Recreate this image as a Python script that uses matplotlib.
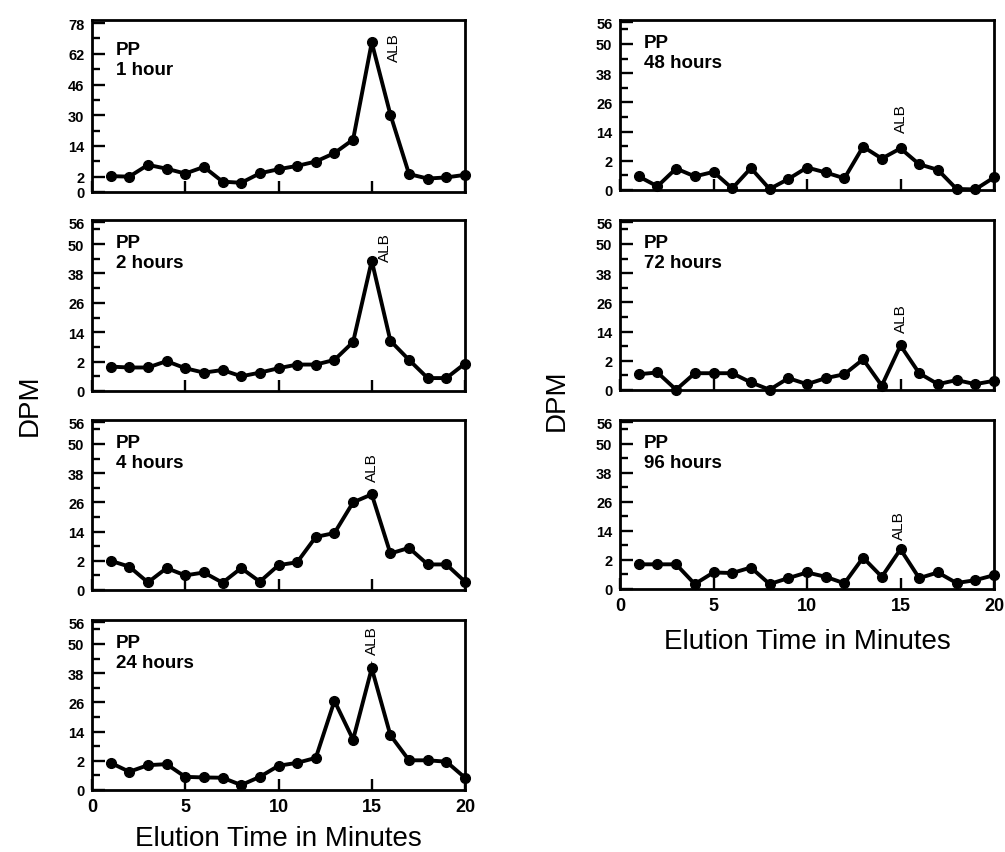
import numpy as np
import matplotlib
matplotlib.use("Agg")
import matplotlib.pyplot as plt
import matplotlib.transforms as mtransforms

plt.rcParams['font.family'] = ['Liberation Sans', 'DejaVu Sans']

# ---------------- data ----------------
minutes = [1, 2, 3, 4, 5, 6, 7, 8, 9, 10, 11, 12, 13, 14, 15, 16, 17, 18, 19, 20]

dpm_1h = [2.2, 2.0, 6.6, 5.1, 3.2, 5.8, 1.35, 1.2, 3.3, 4.9,
          6.2, 7.9, 11.2, 17.3, 67.9, 30.3, 3.0, 1.75, 1.9, 2.7]
dpm_2h = [1.66, 1.6, 1.6, 2.2, 1.55, 1.25, 1.43, 1.0, 1.25, 1.55,
          1.8, 1.8, 2.7, 10.0, 43.2, 10.5, 2.7, 0.88, 0.88, 1.87]
dpm_4h = [2.0, 1.6, 0.52, 1.5, 1.0, 1.2, 0.5, 1.5, 0.57, 1.7,
          1.9, 11.8, 13.4, 26.0, 29.3, 5.0, 7.3, 1.75, 1.75, 0.57]
dpm_24h = [1.86, 1.25, 1.7, 1.77, 0.9, 0.86, 0.84, 0.34, 0.9, 1.66,
           1.86, 3.2, 26.6, 10.7, 40.0, 12.5, 2.2, 2.2, 1.94, 0.84]
dpm_48h = [0.93, 0.25, 1.47, 0.93, 1.24, 0.11, 1.5, 0.07, 0.75, 1.54,
           1.2, 0.8, 7.8, 2.9, 7.1, 1.76, 1.38, 0.07, 0.04, 0.86]
dpm_72h = [1.08, 1.2, 0.02, 1.15, 1.15, 1.15, 0.52, 0.02, 0.81, 0.4,
           0.81, 1.08, 2.6, 0.3, 8.3, 1.15, 0.4, 0.68, 0.4, 0.63]
dpm_96h = [1.7, 1.7, 1.7, 0.34, 1.14, 1.1, 1.48, 0.34, 0.75, 1.14,
           0.84, 0.39, 2.96, 0.84, 6.4, 0.75, 1.14, 0.41, 0.61, 0.95]

panel_titles = ["1 hour", "2 hours", "4 hours", "24 hours",
                "48 hours", "72 hours", "96 hours"]
series = [dpm_1h, dpm_2h, dpm_4h, dpm_24h, dpm_48h, dpm_72h, dpm_96h]

yticks_top = [0, 2, 14, 30, 46, 62, 78]
yticks_std = [0, 2, 14, 26, 38, 50, 56]
xticks = [0, 5, 10, 15, 20]
peak_label = "ALB"

# ---------------- layout (pixels) ----------------
W, H = 1005, 853
# (x0, x1, top, bottom)
boxes = [
    (92, 465, 21, 193),
    (92, 465, 221, 392),
    (92, 465, 421, 591),
    (92, 465, 621, 791),
    (620, 994, 21, 191),
    (620, 994, 221, 391),
    (620, 994, 421, 590),
]
# tick positions on the broken y axis (in "tick units")
pos_top = [0, 0.5, 1.5, 2.5, 3.5, 4.5, 5.5]
pos_std = [0, 1, 2, 3, 4, 5, 5.74]
# ALB label: (x data, bottom in axes fraction)
alb_pos = [(16.2, 0.762), (15.7, 0.762), (15.0, 0.643), (15.0, 0.80),
           (15.0, 0.339), (15.0, 0.342), (14.9, 0.298)]
pp_offset_px = [24, 17, 17, 17, 17, 17, 17]


def make_scale(vals, pos):
    v = np.asarray(vals, float)
    p = np.asarray(pos, float)
    s0 = (p[1] - p[0]) / (v[1] - v[0])
    s1 = (p[-1] - p[-2]) / (v[-1] - v[-2])

    def fwd(x):
        x = np.asarray(x, float)
        return np.where(x < v[0], p[0] + (x - v[0]) * s0,
                        np.where(x > v[-1], p[-1] + (x - v[-1]) * s1,
                                 np.interp(x, v, p)))

    def inv(y):
        y = np.asarray(y, float)
        return np.where(y < p[0], v[0] + (y - p[0]) / s0,
                        np.where(y > p[-1], v[-1] + (y - p[-1]) / s1,
                                 np.interp(y, p, v)))
    return fwd, inv


fig = plt.figure(figsize=(W / 100, H / 100), dpi=100)

for i, (ys, title, (x0, x1, top, bot)) in enumerate(zip(series, panel_titles, boxes)):
    ax = fig.add_axes([x0 / W, (H - bot) / H, (x1 - x0) / W, (bot - top) / H])
    h_px = bot - top
    if i == 0:
        vals, pos = yticks_top, pos_top
        top_pos = 5.6
        minor_pos = [1, 2, 3, 4, 5]
    else:
        vals, pos = yticks_std, pos_std
        top_pos = 5.82
        minor_pos = [0.5, 1.5, 2.5, 3.5, 4.5, 5.5]
    fwd, inv = make_scale(vals, pos)
    ax.set_yscale('function', functions=(fwd, inv))
    ax.plot(minutes, ys, color='black', lw=2.8, marker='o', ms=7.0,
            markerfacecolor='black', markeredgecolor='black', clip_on=False,
            solid_joinstyle='miter', zorder=3)
    ax.set_xlim(0, 20)
    ax.set_ylim(0, float(inv(top_pos)))
    ax.set_yticks(vals)
    ax.set_yticklabels([str(v) for v in vals], fontsize=10.5, fontweight='bold')
    ax.set_yticks([float(inv(m)) for m in minor_pos], minor=True)
    ax.set_xticks(xticks)
    ax.set_xticklabels([str(v) for v in xticks], fontsize=13, fontweight='bold')
    ax.tick_params(axis='y', which='major', direction='in', length=9, width=1.7, pad=5.5)
    ax.tick_params(axis='y', which='minor', direction='in', length=5.5, width=1.7)
    ax.tick_params(axis='x', which='major', direction='in', length=8, width=1.7, pad=6)
    ax.tick_params(axis='x', which='minor', bottom=False)
    if i not in (3, 6):
        ax.tick_params(axis='x', labelbottom=False)
    for sp in ax.spines.values():
        sp.set_linewidth(2.0)
        sp.set_color('black')

    # PP label
    y_top = 1 - (pp_offset_px[i] - 3) / h_px
    ax.text(0.064, y_top, "PP\n" + title, transform=ax.transAxes, ha='left', va='top',
            fontsize=13.5, fontweight='bold', linespacing=1.25)

    # ALB label
    ax_x, ax_y = alb_pos[i]
    trans = mtransforms.blended_transform_factory(ax.transData, ax.transAxes)
    ax.text(ax_x, ax_y, peak_label, transform=trans, rotation=90, ha='center',
            va='bottom', fontsize=11)

# axis labels
fig.text(278.5 / W, 1 - 846 / H, "Elution Time in Minutes", ha='center', va='baseline',
         fontsize=20)
fig.text(807 / W, 1 - 649 / H, "Elution Time in Minutes", ha='center', va='baseline',
         fontsize=20)
fig.text(30 / W, 1 - 405 / H, "DPM", rotation=90, ha='center', va='center', fontsize=20)
fig.text(557 / W, 1 - 400 / H, "DPM", rotation=90, ha='center', va='center', fontsize=20)

fig.savefig("out.png", dpi=100)
